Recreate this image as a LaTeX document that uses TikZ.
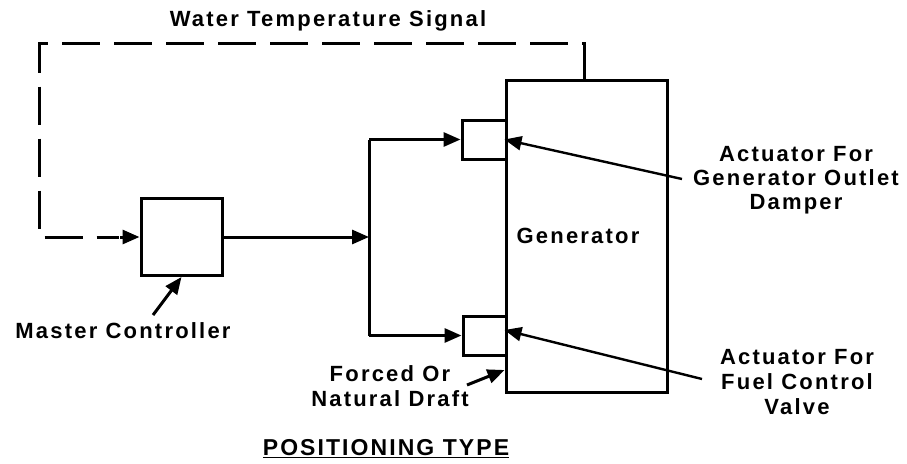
\documentclass[tikz,border=0pt]{standalone}
\usepackage{fontspec}
\setmainfont{Liberation Sans}[LetterSpace=10]
\usetikzlibrary{arrows.meta}
\begin{document}
\begin{tikzpicture}[x=1pt,y=-1pt,
  line width=3pt,
  box/.style={draw,line width=3pt,inner sep=0pt},
  arr/.style={-{Triangle[length=17pt,width=14pt]}},
  sig/.style={dash pattern=on 38pt off 14pt},
  lbl/.style={font=\bfseries\fontsize{22}{24}\selectfont,align=center,inner sep=0pt},
  ttl/.style={font=\bfseries\fontsize{23}{26}\selectfont\addfontfeature{LetterSpace=9},inner sep=0pt}]
\useasboundingbox (0,0) rectangle (907,463);
% boxes
\node[box,minimum width=81pt,minimum height=77pt] (mc) at (181.5,237) {};
\node[box,minimum width=161pt,minimum height=312pt] (gen) at (586.5,236) {};
\node[lbl] (gentxt) at (578,236) {Generator};
\node[box,minimum width=44pt,minimum height=39pt] (act1) at (484,139.5) {};
\node[box,minimum width=43pt,minimum height=39pt] (act2) at (484.5,335.5) {};
% branch
\coordinate (b) at (369,240);
\draw[arr] (mc.east) -- (mc.east -| b);
\draw (act1.west -| b) -- (act2.west -| b);
\draw[arr] (act1.west -| b) -- (act1.west);
\draw[arr] (act2.west -| b) -- (act2.west);
% water temperature signal
\coordinate (s1) at (584,43);
\coordinate (s2) at (39,43);
\draw[sig,line join=miter] (gen.north -| s1) -- (s1) -- (s2) -- (s2 |- mc.west) -- ++(80,0);
\draw[arr] (120,0 |- mc.west) -- (mc.west);
\node[lbl] (wts) at (328,20.5) {Water Temperature Signal};
% labels
\node[lbl] (mcl) at (123,331) {Master Controller};
\coordinate (mcp) at (153,315);
\draw[arr] (mcp) -- (mc.south);
\node[lbl,font=\bfseries\fontsize{22}{25}\selectfont] (fd) at (390,386) {Forced Or\\Natural Draft};
\coordinate (fdp) at (467,385);
\draw[arr] (fdp) -- (gen.west |- 0,370);
\node[lbl] (l1) at (796,180) {Actuator For\\Generator Outlet\\Damper};
\coordinate (p1) at (682,179);
\draw[arr,line width=2.4pt] (p1) -- (gen.west |- act1);
\node[lbl,font=\bfseries\fontsize{22}{25}\selectfont] (l2) at (797,382) {Actuator For\\Fuel Control\\Valve};
\coordinate (p2) at (702,379);
\draw[arr,line width=2.4pt] (p2) -- (gen.west |- 0,330);
\node[ttl] (pt) at (386,449) {\underline{POSITIONING TYPE}};
\end{tikzpicture}
\end{document}
